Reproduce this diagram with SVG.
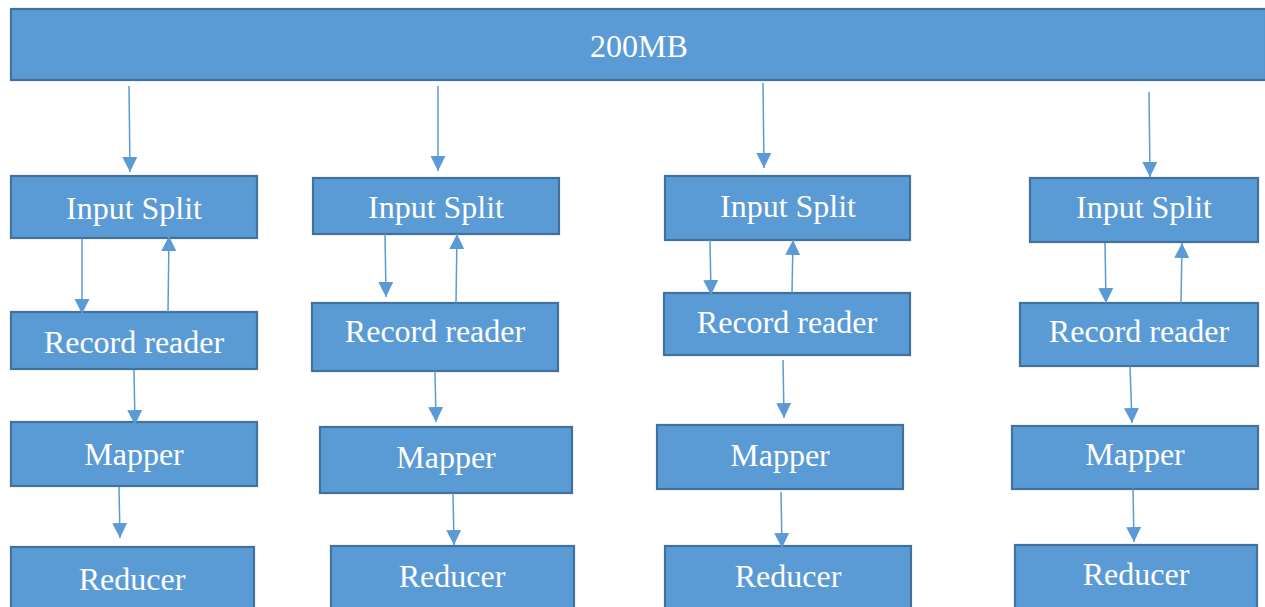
<svg xmlns="http://www.w3.org/2000/svg" width="1265" height="607" viewBox="0 0 1265 607">
  <style>
    .box { fill: #5b9bd5; stroke: #41719c; stroke-width: 2.2; }
    .lbl { fill: #ffffff; font-family: "Liberation Serif", "Times New Roman", serif; font-size: 32px; text-anchor: middle; }
    .edge { stroke: #5b9bd5; stroke-width: 1.5; fill: none; marker-end: url(#arrow); }
  </style>
  <defs>
    <marker id="arrow" markerUnits="userSpaceOnUse" markerWidth="15" markerHeight="15" refX="15" refY="7.5" orient="auto">
      <path d="M0,0 L15,7.5 L0,15 z" fill="#5b9bd5"/>
    </marker>
  </defs>
  <rect width="1265" height="607" fill="#ffffff"/>

  <!-- source data block -->
  <g id="data">
    <rect class="box" x="11" y="9" width="1255" height="71"/>
    <text class="lbl" x="639" y="57">200MB</text>
  </g>

  <!-- column 1 -->
  <g id="split1"><rect class="box" x="11" y="176" width="246" height="62"/><text class="lbl" x="134" y="219">Input Split</text></g>
  <g id="reader1"><rect class="box" x="11" y="312" width="246" height="57"/><text class="lbl" x="134" y="353">Record reader</text></g>
  <g id="mapper1"><rect class="box" x="11" y="422" width="246" height="64"/><text class="lbl" x="134" y="465">Mapper</text></g>
  <g id="reducer1"><rect class="box" x="11" y="547" width="243" height="64"/><text class="lbl" x="132" y="590">Reducer</text></g>

  <!-- column 2 -->
  <g id="split2"><rect class="box" x="313" y="178" width="246" height="56"/><text class="lbl" x="436" y="218">Input Split</text></g>
  <g id="reader2"><rect class="box" x="312" y="303" width="246" height="68"/><text class="lbl" x="435" y="342">Record reader</text></g>
  <g id="mapper2"><rect class="box" x="320" y="427" width="252" height="66"/><text class="lbl" x="446" y="468">Mapper</text></g>
  <g id="reducer2"><rect class="box" x="331" y="546" width="243" height="65"/><text class="lbl" x="452" y="587">Reducer</text></g>

  <!-- column 3 -->
  <g id="split3"><rect class="box" x="665" y="176" width="245" height="64"/><text class="lbl" x="788" y="217">Input Split</text></g>
  <g id="reader3"><rect class="box" x="664" y="293" width="246" height="62"/><text class="lbl" x="787" y="333">Record reader</text></g>
  <g id="mapper3"><rect class="box" x="657" y="425" width="246" height="64"/><text class="lbl" x="780" y="466">Mapper</text></g>
  <g id="reducer3"><rect class="box" x="665" y="546" width="246" height="65"/><text class="lbl" x="788" y="587">Reducer</text></g>

  <!-- column 4 -->
  <g id="split4"><rect class="box" x="1030" y="178" width="228" height="64"/><text class="lbl" x="1144" y="218">Input Split</text></g>
  <g id="reader4"><rect class="box" x="1020" y="303" width="238" height="63"/><text class="lbl" x="1139" y="342">Record reader</text></g>
  <g id="mapper4"><rect class="box" x="1012" y="426" width="246" height="63"/><text class="lbl" x="1135" y="465">Mapper</text></g>
  <g id="reducer4"><rect class="box" x="1015" y="545" width="242" height="66"/><text class="lbl" x="1136" y="585">Reducer</text></g>

  <!-- flow between stages -->
  <g id="connectors">
    <path class="edge" d="M129,86 L130,172"/>
    <path class="edge" d="M82,238 L82,314"/>
    <path class="edge" d="M168,312 L169,236"/>
    <path class="edge" d="M134,370 L135,425"/>
    <path class="edge" d="M119,487 L120,538"/>

    <path class="edge" d="M438,86 L438,171"/>
    <path class="edge" d="M385,234 L386,297"/>
    <path class="edge" d="M456,303 L457,234"/>
    <path class="edge" d="M435,371 L436,422"/>
    <path class="edge" d="M453,493 L454,545"/>

    <path class="edge" d="M763,83 L764,168"/>
    <path class="edge" d="M710,240 L711,295"/>
    <path class="edge" d="M792,293 L793,240"/>
    <path class="edge" d="M783,360 L784,418"/>
    <path class="edge" d="M781,492 L782,548"/>

    <path class="edge" d="M1149,92 L1150,177"/>
    <path class="edge" d="M1105,243 L1106,303"/>
    <path class="edge" d="M1181,303 L1182,243"/>
    <path class="edge" d="M1130,366 L1132,423"/>
    <path class="edge" d="M1133,489 L1134,542"/>
  </g>
</svg>
